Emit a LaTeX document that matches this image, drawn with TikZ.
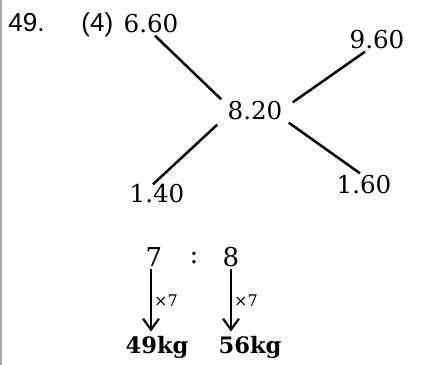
\documentclass[tikz,border=0pt]{standalone}
\usepackage{fontspec}
\setmainfont{DejaVu Serif}
\newfontfamily\qfont{Liberation Sans}
\usetikzlibrary{arrows.meta}

\tikzset{
  num/.style={inner sep=1pt,font=\fontsize{12.3}{14}\selectfont},
  ratio/.style={inner sep=1pt,font=\fontsize{13}{15}\selectfont},
  ans/.style={inner sep=1pt,font=\fontsize{11.3}{13}\selectfont\bfseries},
  qno/.style={inner sep=0pt,anchor=base west,font=\qfont\fontsize{13}{15}\selectfont},
  times/.style={inner sep=1pt,right,font=\fontsize{8}{10}\selectfont},
  link/.style={line width=1.25pt},
  mul/.style={line width=1.1pt,-{Straight Barb[length=5.5pt,width=8pt,line width=1.1pt]}}
}

\begin{document}
\begin{tikzpicture}[x=0.5pt,y=-0.5pt]
  \useasboundingbox (0,0) rectangle (425,365);
  \draw[black!35,line width=1pt] (1,0) -- (1,365);
  % question number
  \node[qno] (q) at (8,31) {49.};
  \node[qno] (opt) at (81,31) {(4)};
  % alligation cross
  \node[num] (hi) at (151,24) {6.60};
  \node[num] (lo) at (377,40) {9.60};
  \node[num] (mid) at (255,111) {8.20};
  \node[num] (dl) at (157,194) {1.40};
  \node[num] (dr) at (364,185) {1.60};
  \draw[link] ([xshift=2pt]hi.south) -- ([xshift=-2pt]mid.north west);
  \draw[link] ([xshift=4pt,yshift=-1.5pt]mid.north east) -- ([xshift=-6pt]lo.south);
  \draw[link] ([xshift=2pt]mid.south east) -- ([xshift=-2pt]dr.north);
  \draw[link] ([xshift=-4pt,yshift=-1pt]mid.south west) -- ([xshift=-2pt,yshift=-1pt]dl.north);
  % ratio and answer
  \node[ratio] (r7) at (154,257) {7};
  \node[ratio] (col) at (194,258) {:};
  \node[ratio] (r8) at (231,257) {8};
  \node[ans] (w1) at (157,347) {49kg};
  \node[ans] (w2) at (250,347) {56kg};
  \draw[mul] ([xshift=-1.5pt]r7.south) -- ([xshift=-1.5pt,yshift=1pt]r7.south |- w1.north) node[times,pos=0.5] {×7};
  \draw[mul] (r8.south) -- ([yshift=1pt]r8.south |- w2.north) node[times,pos=0.5] {×7};
\end{tikzpicture}
\end{document}
